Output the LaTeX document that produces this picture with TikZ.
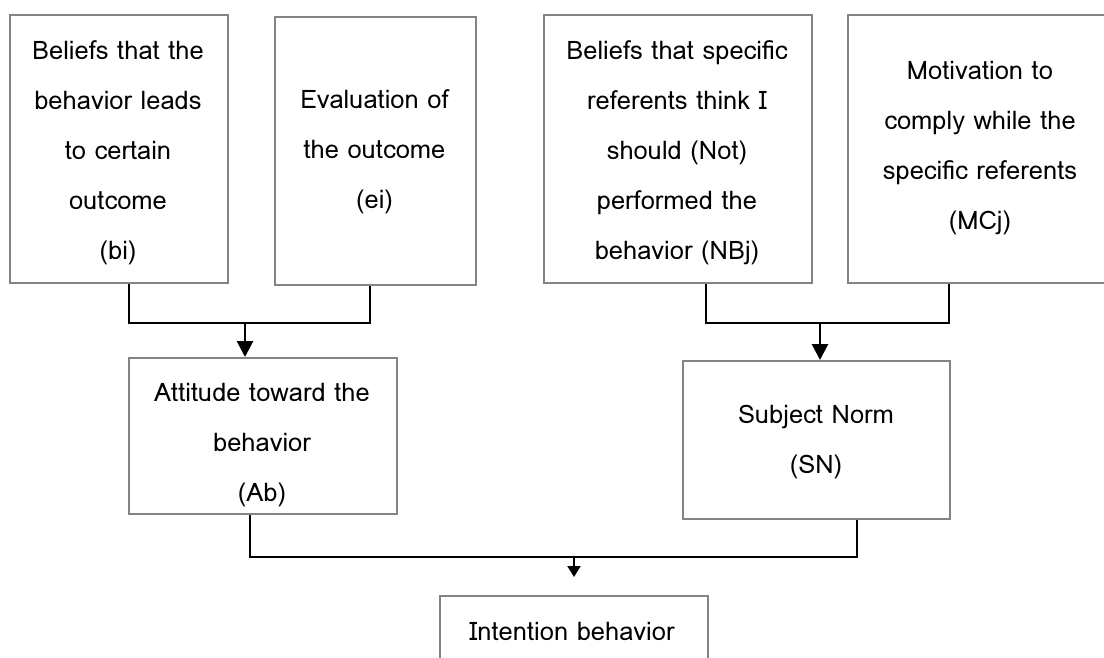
\documentclass[tikz,border=0pt]{standalone}
\usepackage{fontspec}
\setmainfont{Loma}
\usetikzlibrary{arrows.meta}
\definecolor{boxgray}{RGB}{130,132,135}

\begin{document}
\begin{tikzpicture}[x=1pt,y=-1pt,
  box/.style={draw=boxgray, line width=2.4pt, inner sep=0pt, anchor=north west},
  txt/.style={align=center, inner sep=0pt, font=\fontsize{25.5}{50}\selectfont},
  link/.style={draw=black, line width=1.3pt},
  flow/.style={draw=black, line width=2.8pt, -{Triangle[length=16pt,width=16pt]}},
  flowsmall/.style={draw=black, line width=2pt, -{Triangle[length=11pt,width=13pt]}}]

\useasboundingbox (0,0) rectangle (1104,657);

% boxes
\node[box, minimum width=218pt, minimum height=268pt] (bi)  at (9,14)   {};
\node[box, minimum width=201pt, minimum height=268pt] (ei)  at (274,16) {};
\node[box, minimum width=268pt, minimum height=268pt] (nbj) at (543,14) {};
\node[box, minimum width=262pt, minimum height=268pt] (mcj) at (847,14) {};
\node[box, minimum width=268pt, minimum height=156pt] (ab)  at (128,357) {};
\node[box, minimum width=267pt, minimum height=158pt] (sn)  at (682,360) {};
\node[box, minimum width=268pt, minimum height=100pt] (ib)  at (439,595) {};

% box texts
\node[txt] (tbi)  at (118,153) {Beliefs that the\\behavior leads\\to certain\\outcome\\(bi)};
\node[txt] (tei)  at (374.5,151.5) {Evaluation of\\the outcome\\(ei)};
\node[txt] (tnbj) at (677,153) {Beliefs that specific\\referents think I\\should (Not)\\performed the\\behavior (NBj)};
\node[txt] (tmcj) at (980,148) {Motivation to\\comply while the\\specific referents\\(MCj)};
\node[txt] (tab)  at (262,445) {Attitude toward the\\behavior\\(Ab)};
\node[txt] (tsn)  at (816,442) {Subject Norm\\(SN)};
\node[txt, anchor=base] (tib) at (572,640) {Intention behavior};

% junction points
\coordinate (k1) at (129,323);
\coordinate (k2) at (370,323);
\coordinate (m1) at (245,323);
\coordinate (k3) at (706,323);
\coordinate (k4) at (949,323);
\coordinate (m2) at (820,323);
\coordinate (k5) at (250,557);
\coordinate (k6) at (857,557);
\coordinate (m3) at (574,557);

% connectors
\draw[link] (bi.south -| k1) -- (k1) -- (k2) -- (ei.south -| k2);
\draw[flow] (m1) -- (ab.north -| m1);
\draw[link] (nbj.south -| k3) -- (k3) -- (k4) -- (mcj.south -| k4);
\draw[flow] (m2) -- (sn.north -| m2);
\draw[link] (ab.south -| k5) -- (k5) -- (k6) -- (sn.south -| k6);
\draw[flowsmall, shorten >=18pt] (m3) -- (ib.north -| m3);
\end{tikzpicture}
\end{document}
